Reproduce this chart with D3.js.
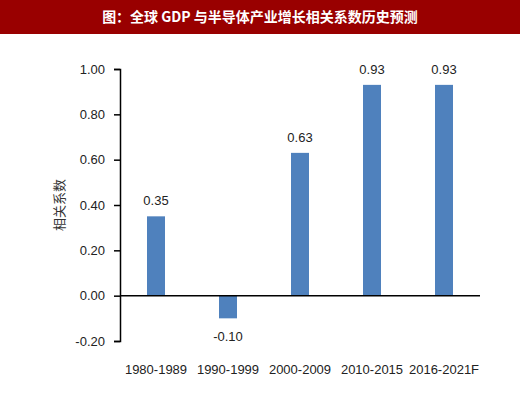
<!DOCTYPE html>
<html><head><meta charset="utf-8">
<script src="https://cdn.jsdelivr.net/npm/d3@7"></script>
<style>body{margin:0;background:#fff}svg{display:block}</style>
</head><body>
<script>
const categories = ["1980-1989","1990-1999","2000-2009","2010-2015","2016-2021F"];
const values = [0.35,-0.10,0.63,0.93,0.93];
const yTicks = [-0.2,0,0.2,0.4,0.6,0.8,1.0];
const title = "图：全球 GDP 与半导体产业增长相关系数历史预测";
const yTitle = "相关系数";

const W=520,H=399;
const fmt=d=>d3.format(".2f")(d).replace("−","-");
const svg=d3.select("body").append("svg").attr("width",W).attr("height",H);
svg.append("rect").attr("width",W).attr("height",34).attr("fill","#990000");
svg.append("text").attr("x",260).attr("y",22).attr("text-anchor","middle")
  .attr("fill","#fff").attr("font-family","'Noto Sans CJK SC'").attr("font-weight","bold")
  .attr("font-size",14).text(title);

const x=d3.scaleBand().domain(categories).range([120,480]).paddingInner(0.75).paddingOuter(0.375);
const y=d3.scaleLinear().domain([-0.2,1.0]).range([341,69]);
const font="'Liberation Sans', Arial, sans-serif";

const ya=svg.append("g").attr("transform","translate(120,0)")
  .call(d3.axisLeft(y).tickValues(yTicks).tickFormat(fmt).tickSizeOuter(0).tickSize(6).tickPadding(9));
ya.select(".domain").attr("stroke","#000").attr("stroke-width",1.5);
ya.selectAll(".tick line").attr("stroke","#000").attr("stroke-width",1.5);
ya.selectAll("text").attr("font-family",font).attr("font-size",13).attr("fill","#222");

svg.selectAll("rect.bar").data(values).join("rect").attr("class","bar")
  .attr("x",(d,i)=>x(categories[i])).attr("width",x.bandwidth())
  .attr("y",d=>y(Math.max(0,d))).attr("height",d=>Math.abs(y(d)-y(0)))
  .attr("fill","#4f81bd");

svg.append("line").attr("x1",120).attr("x2",480).attr("y1",y(0)).attr("y2",y(0))
  .attr("stroke","#000").attr("stroke-width",1.5);

svg.selectAll("text.val").data(values).join("text").attr("class","val")
  .attr("x",(d,i)=>x(categories[i])+x.bandwidth()/2)
  .attr("y",d=>d>=0?y(d)-11:y(d)+23)
  .attr("text-anchor","middle").attr("font-family",font).attr("font-size",13).attr("fill","#222")
  .text(fmt);

svg.selectAll("text.cat").data(categories).join("text").attr("class","cat")
  .attr("x",d=>x(d)+x.bandwidth()/2).attr("y",374)
  .attr("text-anchor","middle").attr("font-family",font).attr("font-size",13).attr("fill","#222")
  .text(d=>d);

svg.append("text").attr("transform","translate(64,205) rotate(-90)").attr("text-anchor","middle")
  .attr("font-family","'Noto Sans CJK SC'").attr("font-size",13).attr("fill","#333").text(yTitle);
</script>
</body></html>
